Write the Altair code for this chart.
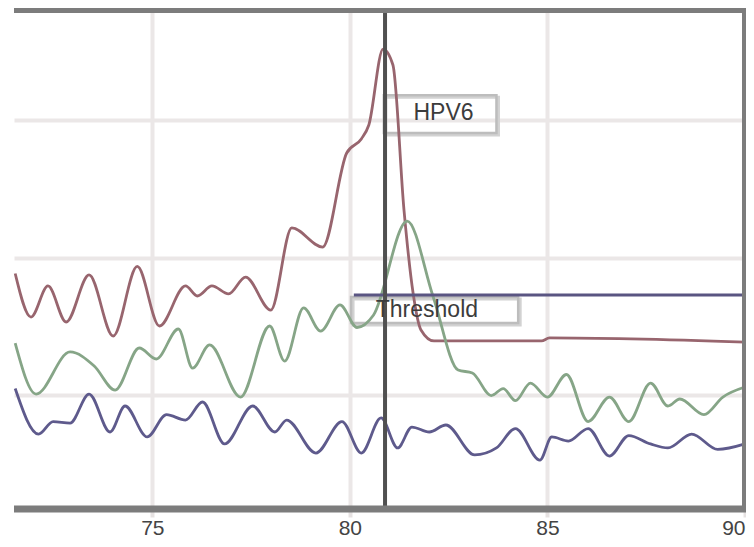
import altair as alt
import pandas as pd

# Melt-curve style data (temperature, signal)
red_x = [71.53, 71.93, 72.36, 72.82, 73.40, 74.01, 74.62, 75.18, 75.84, 76.14, 76.51, 76.93,
         77.36, 78.00, 78.53, 79.31, 79.92, 80.29, 80.48, 80.84, 81.09, 81.37, 81.60, 81.80,
         82.13, 84.85, 85.05, 90.00]
red_y = [1.884, 1.567, 1.793, 1.531, 1.873, 1.429, 1.935, 1.502, 1.793, 1.720, 1.793, 1.735,
         1.858, 1.618, 2.215, 2.076, 2.760, 2.862, 2.964, 3.516, 3.400, 2.345, 1.742, 1.473,
         1.393, 1.393, 1.415, 1.385]

green_x = [71.53, 72.06, 72.92, 73.53, 74.06, 74.67, 75.10, 75.66, 76.02, 76.45, 77.23, 77.97,
           78.35, 78.83, 79.26, 79.75, 80.18, 80.60, 81.45, 82.11, 82.74, 83.10, 83.58, 83.88,
           84.19, 84.57, 85.00, 85.48, 86.03, 86.57, 87.06, 87.61, 88.05, 88.35, 88.96, 89.44,
           90.00]
green_y = [1.378, 1.007, 1.313, 1.211, 1.036, 1.342, 1.262, 1.480, 1.196, 1.364, 0.985, 1.502,
           1.247, 1.633, 1.465, 1.655, 1.491, 1.582, 2.265, 1.713, 1.182, 1.160, 0.996, 1.047,
           0.959, 1.087, 0.985, 1.149, 0.807, 0.985, 0.807, 1.087, 0.920, 0.971, 0.857, 0.985,
           1.058]

blue_x = [71.53, 72.12, 72.49, 72.92, 73.40, 73.93, 74.31, 74.87, 75.36, 75.84, 76.27, 76.83,
          77.54, 78.10, 78.40, 79.14, 79.80, 80.29, 80.79, 81.21, 81.57, 82.01, 82.43, 83.16,
          83.71, 84.19, 84.81, 85.11, 85.53, 86.03, 86.57, 87.06, 87.61, 88.05, 88.65, 89.31,
          90.00]
blue_y = [1.047, 0.716, 0.807, 0.796, 1.007, 0.731, 0.920, 0.695, 0.857, 0.818, 0.949, 0.644,
          0.920, 0.731, 0.818, 0.578, 0.807, 0.578, 0.833, 0.615, 0.767, 0.731, 0.782, 0.564,
          0.615, 0.756, 0.527, 0.695, 0.665, 0.756, 0.556, 0.705, 0.644, 0.615, 0.716, 0.604,
          0.644]

series_names = ["HPV6", "Control", "Background"]
series_colors = ["#98656e", "#86a587", "#5e5a8c"]

threshold_y = [1.727]
threshold_x = [80.10]
threshold_x2 = [90.0]
marker_x = [80.89]

x_ticks = [75, 80, 85, 90]
y_grid = [1, 2, 3]
x_domain = [71.5, 90.0]
y_domain = [0.171, 3.8]

label_text = ["HPV6", "Threshold"]
label_x = [82.37, 81.95]
label_y = [3.05, 1.618]
box_x = [80.86, 80.03]
box_x2 = [83.71, 84.26]
box_y = [3.18, 1.713]
box_y2 = [2.905, 1.524]

W, H = 731, 499

df = pd.concat([
    pd.DataFrame({"temp": red_x, "value": red_y, "series": series_names[0]}),
    pd.DataFrame({"temp": green_x, "value": green_y, "series": series_names[1]}),
    pd.DataFrame({"temp": blue_x, "value": blue_y, "series": series_names[2]}),
], ignore_index=True)

xs = alt.Scale(domain=x_domain, nice=False, zero=False)
ys = alt.Scale(domain=y_domain, nice=False, zero=False)

lines = alt.Chart(df).mark_line(interpolate="monotone", strokeWidth=2.8).encode(
    x=alt.X("temp:Q", scale=xs, title=None,
            axis=alt.Axis(values=x_ticks, grid=True, gridColor="#ebe7e7", gridWidth=4,
                          domain=False, tickColor="#e6e2e2", tickWidth=4, tickSize=8,
                          labelFontSize=21, labelFont="Liberation Sans", labelColor="#444444",
                          labelPadding=0, format="d")),
    y=alt.Y("value:Q", scale=ys, title=None,
            axis=alt.Axis(values=y_grid, grid=True, gridColor="#ebe7e7", gridWidth=4,
                          labels=False, ticks=False, domain=False)),
    color=alt.Color("series:N", scale=alt.Scale(domain=series_names, range=series_colors),
                    legend=None),
)

boxes_df = pd.DataFrame({"x": box_x, "x2": box_x2, "y": box_y, "y2": box_y2})
shadow = alt.Chart(boxes_df).mark_rect(fillOpacity=0, stroke="#d2d2d2", strokeWidth=3,
                                       xOffset=2, yOffset=2, x2Offset=2, y2Offset=2).encode(
    x="x:Q", x2="x2:Q", y="y:Q", y2="y2:Q")
boxes = alt.Chart(boxes_df).mark_rect(fillOpacity=0, stroke="#bdbdbd", strokeWidth=2.5).encode(
    x="x:Q", x2="x2:Q", y="y:Q", y2="y2:Q")

thr_df = pd.DataFrame({"x": threshold_x, "x2": threshold_x2, "y": threshold_y})
threshold = alt.Chart(thr_df).mark_rule(color="#5a5582", strokeWidth=3).encode(
    x="x:Q", x2="x2:Q", y="y:Q")

marker = alt.Chart(pd.DataFrame({"x": marker_x})).mark_rule(color="#505050", strokeWidth=4).encode(
    x="x:Q")

labels = alt.Chart(pd.DataFrame({"x": label_x, "y": label_y, "t": label_text})).mark_text(
    fontSize=23, font="Liberation Sans", color="#3c3c3c", align="center", baseline="middle"
).encode(x="x:Q", y="y:Q", text="t:N")

one = pd.DataFrame({"a": [0]})
frame_color = "#7c7c7c"
top = alt.Chart(one).mark_rule(color=frame_color, strokeWidth=6).encode(
    x=alt.value(0), x2=alt.value(W + 3), y=alt.value(0))
bottom = alt.Chart(one).mark_rule(color=frame_color, strokeWidth=7).encode(
    x=alt.value(0), x2=alt.value(W + 3), y=alt.value(H))
right = alt.Chart(one).mark_rule(color=frame_color, strokeWidth=6).encode(
    x=alt.value(W), y=alt.value(-3), y2=alt.value(H + 3))

chart = alt.layer(shadow, boxes, lines, threshold, marker, labels, top, bottom, right).properties(
    width=W, height=H,
    autosize=alt.AutoSizeParams(type="none"),
    padding={"left": 6, "top": 2, "right": 1, "bottom": 30},
    background="white",
).configure_view(stroke=None)

chart.save("out.html", embed_options={"renderer": "svg", "actions": False})
